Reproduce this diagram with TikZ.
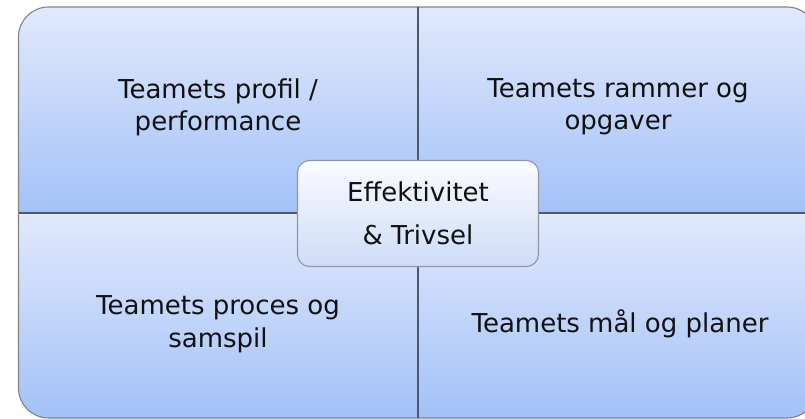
\documentclass[tikz,border=0pt]{standalone}
\usepackage{fontspec}
\setmainfont{DejaVu Sans}
\definecolor{qtop}{RGB}{225,233,252}
\definecolor{qbot}{RGB}{163,193,248}
\definecolor{ctop}{RGB}{250,251,255}
\definecolor{cbot}{RGB}{206,220,248}
\definecolor{outerline}{RGB}{130,130,135}
\definecolor{divline}{RGB}{78,88,108}
\definecolor{cline}{RGB}{145,150,162}
\definecolor{txt}{RGB}{17,17,17}
\tikzset{
  quadfill/.style={top color=qtop,bottom color=qbot},
  lbl/.style={anchor=base,inner sep=0pt,text=txt,font=\fontsize{26}{32}\selectfont},
  centerbox/.style={draw=cline,line width=1.1pt,rounded corners=12pt,top color=ctop,bottom color=cbot,minimum width=241pt,minimum height=106pt,inner sep=0pt},
  divider/.style={draw=divline,line width=2.2pt},
  outerframe/.style={draw=outerline,line width=1.1pt,rounded corners=30pt}
}
\begin{document}
\begin{tikzpicture}[x=1pt,y=-1pt]
\useasboundingbox (0,0) rectangle (805,419);
\begin{scope}
  \clip[rounded corners=30pt] (18.5,7) rectangle (817,418);
  \shade[quadfill] (18.5,7) rectangle (418,213);
  \shade[quadfill] (418,7) rectangle (817,213);
  \shade[quadfill] (18.5,213) rectangle (418,418);
  \shade[quadfill] (418,213) rectangle (817,418);
\end{scope}
\draw[outerframe] (18.5,7) rectangle (817,418);
\coordinate (vt) at (418,7);
\coordinate (vb) at (418,418);
\coordinate (hl) at (18.5,213);
\coordinate (hr) at (817,213);
\draw[divider] (vt) -- (vb);
\draw[divider] (hl) -- (hr);
\node[lbl] (tl1) at (218,99) {Teamets profil /};
\node[lbl] (tl2) at (218,131) {performance};
\node[lbl] (tr1) at (618,98) {Teamets rammer og};
\node[lbl] (tr2) at (618,130) {opgaver};
\node[lbl] (bl1) at (218,315) {Teamets proces og};
\node[lbl] (bl2) at (218,347) {samspil};
\node[lbl] (br1) at (620,332) {Teamets mål og planer};
\node[centerbox] (c) at (418,213.5) {};
\node[lbl] (c1) at (418,202) {Effektivitet};
\node[lbl] (c2) at (418,245) {\& Trivsel};
\end{tikzpicture}
\end{document}
